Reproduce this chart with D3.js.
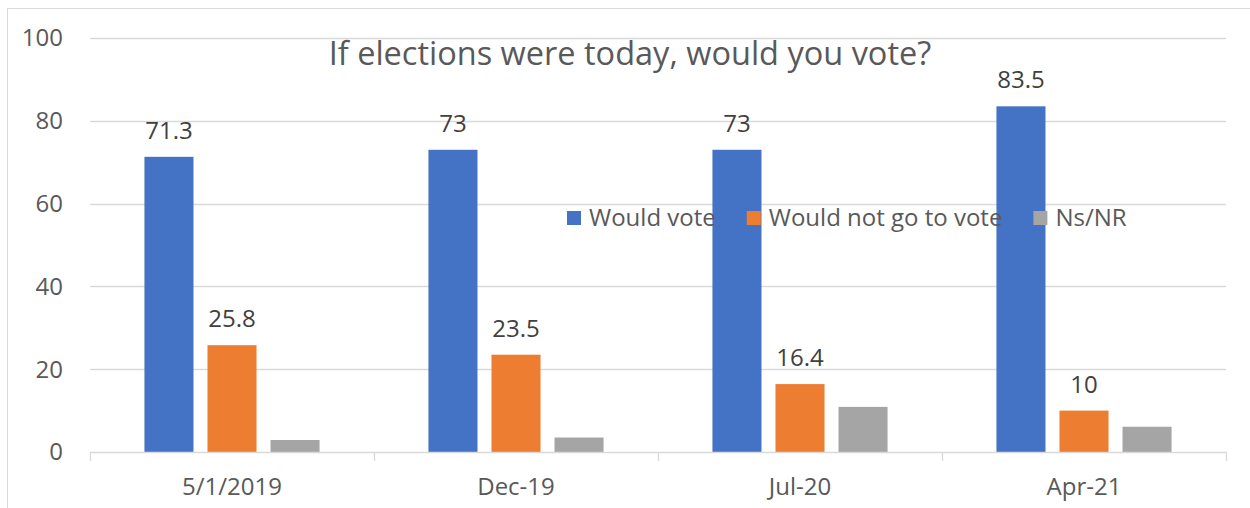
<!DOCTYPE html>
<html>
<head>
<meta charset="utf-8">
<script src="https://cdn.jsdelivr.net/npm/d3@7"></script>
<style>
	body { margin: 0; background: #ffffff; }
	text { font-family: 'Open Sans', 'Noto Sans', sans-serif; }
</style>
</head>
<body>
<svg id="chart" width="1250" height="508"></svg>
<script>
var categories = ['5/1/2019', 'Dec-19', 'Jul-20', 'Apr-21'];
var series_names = ['Would vote', 'Would not go to vote', 'Ns/NR'];
var would_vote = [71.3, 73, 73, 83.5];
var would_not_vote = [25.8, 23.5, 16.4, 10];
var ns_nr = [2.9, 3.5, 10.9, 6.1];
var y_ticks = [0, 20, 40, 60, 80, 100];
var series_colors = ['#4472c4', '#ed7d31', '#a5a5a5'];
var labelled = [true, true, false];

var series_values = [would_vote, would_not_vote, ns_nr];

var svg_elem = d3.select('#chart');

// outer chart border (only top and left show in the frame)
svg_elem.append('rect')
	.attr('x', 7.5).attr('y', 8.5).attr('width', 1400).attr('height', 700)
	.attr('fill', 'none').attr('stroke', '#d9d9d9').attr('stroke-width', 1);

var x_scale = d3.scaleBand().domain(categories).range([90, 1226]).padding(0);
var bw = x_scale.bandwidth();
var x_inner = d3.scaleBand().domain(d3.range(series_names.length))
	.range([bw*0.1917, bw*0.8083]).paddingInner(0.222);
var y_scale = d3.scaleLinear().domain([0, 100]).range([452, 38]);

// gridlines
svg_elem.selectAll('.grid').data(y_ticks.filter(d => d > 0)).enter().append('line').attr('class', 'grid')
	.attr('x1', 90).attr('x2', 1226)
	.attr('y1', d => Math.round(y_scale(d))+0.5).attr('y2', d => Math.round(y_scale(d))+0.5)
	.attr('stroke', '#d9d9d9').attr('stroke-width', 1.3);

// y labels
svg_elem.selectAll('.ylab').data(y_ticks).enter().append('text').attr('class', 'ylab')
	.attr('x', 63).attr('y', d => y_scale(d)).attr('dy', '0.35em')
	.attr('text-anchor', 'end').attr('font-size', 24).attr('fill', '#595959')
	.text(d => d);

// bars
var rows = [];
series_values.forEach(function(vals, s)  {
	vals.forEach(function(v, c)  {
		rows.push({s: s, c: categories[c], v: v});
	});
});

svg_elem.selectAll('.bar').data(rows).enter().append('rect').attr('class', 'bar')
	.attr('x', d => x_scale(d.c)+x_inner(d.s))
	.attr('y', d => y_scale(d.v))
	.attr('width', x_inner.bandwidth())
	.attr('height', d => y_scale(0)-y_scale(d.v))
	.attr('fill', d => series_colors[d.s]);

// data labels
svg_elem.selectAll('.dlab').data(rows.filter(d => labelled[d.s])).enter().append('text').attr('class', 'dlab')
	.attr('x', d => x_scale(d.c)+x_inner(d.s)+x_inner.bandwidth()/2)
	.attr('y', d => y_scale(d.v)-18)
	.attr('text-anchor', 'middle').attr('font-size', 24).attr('fill', '#404040')
	.text(d => d.v);

// x axis line and ticks
var x_axis = d3.axisBottom(x_scale).tickSize(0).tickPadding(0);
svg_elem.append('line')
	.attr('x1', 90).attr('x2', 1226).attr('y1', y_scale(0)+0.5).attr('y2', y_scale(0)+0.5)
	.attr('stroke', '#d9d9d9').attr('stroke-width', 1.3);
var bounds = categories.map(d => x_scale(d)).concat([x_scale.range()[1]]);
svg_elem.selectAll('.xtick').data(bounds).enter().append('line').attr('class', 'xtick')
	.attr('x1', d => Math.round(d)+0.5).attr('x2', d => Math.round(d)+0.5)
	.attr('y1', y_scale(0)).attr('y2', y_scale(0)+9)
	.attr('stroke', '#d9d9d9').attr('stroke-width', 1.3);

var g_x = svg_elem.append('g').attr('transform', 'translate(0,' + y_scale(0) + ')').call(x_axis);
g_x.select('.domain').remove();
g_x.selectAll('text')
	.attr('y', 43).attr('dy', 0)
	.attr('font-size', 24).attr('fill', '#595959')
	.style('font-family', "'Open Sans', 'Noto Sans', sans-serif");

// title
svg_elem.append('text')
	.attr('x', 630).attr('y', 65)
	.attr('text-anchor', 'middle').attr('font-size', 32.5).attr('fill', '#595959')
	.text('If elections were today, would you vote?');

// legend, drawn over the bars
var lx = 567;
series_names.forEach(function(name, s)  {
	svg_elem.append('rect')
		.attr('x', lx).attr('y', 211).attr('width', 14).attr('height', 14)
		.attr('fill', series_colors[s]);
	var t = svg_elem.append('text')
		.attr('x', lx+22).attr('y', 226)
		.attr('font-size', 24).attr('fill', '#595959')
		.text(name);
	lx += 22 + t.node().getComputedTextLength() + 31;
});
</script>
</body>
</html>
